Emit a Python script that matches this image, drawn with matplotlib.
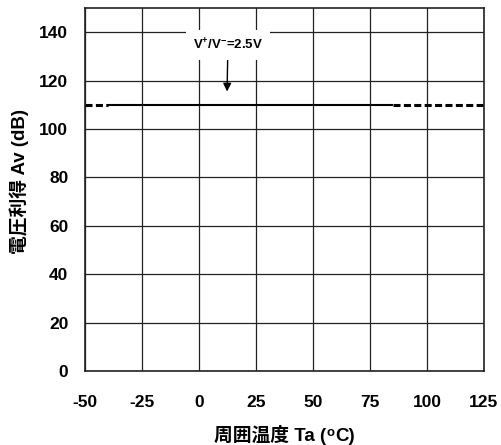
import matplotlib
matplotlib.use('Agg')
import matplotlib.pyplot as plt
from matplotlib.offsetbox import TextArea, HPacker, AnnotationBbox

plt.rcParams['font.family'] = ['Liberation Sans', 'Noto Sans CJK JP', 'DejaVu Sans']
plt.rcParams['font.weight'] = 'bold'
plt.rcParams['mathtext.default'] = 'regular'
plt.rcParams['axes.unicode_minus'] = False

# datos
temp_solid = [-40, 85]
av_solid = [110, 110]
temp_low = [-50, -40]
av_low = [110, 110]
temp_high = [85, 125]
av_high = [110, 110]

x_ticks = [-50, -25, 0, 25, 50, 75, 100, 125]
y_ticks = [0, 20, 40, 60, 80, 100, 120, 140]

fig = plt.figure(figsize=(5.02, 4.45), dpi=100)
ax = fig.add_axes([85/502, 1-371/445, 399/502, 363/445])

ax.plot(temp_solid, av_solid, color='black', lw=1.5, solid_capstyle='butt')
ax.plot(temp_low, av_low, color='black', lw=2.2, linestyle=(0, (2.3, 1.1)), dash_capstyle='butt')
ax.plot(temp_high, av_high, color='black', lw=2.2, linestyle=(0, (2.3, 1.1)),
        dash_capstyle='butt', clip_on=False)

ax.set_xlim(-50, 125)
ax.set_ylim(0, 150)
ax.set_xticks(x_ticks)
ax.set_yticks(y_ticks)
ax.grid(True, color='#222222', lw=0.9)
ax.set_axisbelow(True)
ax.tick_params(length=0, labelsize=12.5)
ax.tick_params(axis='x', pad=17)
ax.tick_params(axis='y', pad=12)
for lab in ax.get_xticklabels() + ax.get_yticklabels():
    lab.set_fontweight('bold')
for s in ax.spines.values():
    s.set_color('#222222')
    s.set_linewidth(1.2)

ax.annotate('V$^{+}$/V$^{-}$=2.5V', xy=(12.3, 115.5), xytext=(12.7, 134.7),
            ha='center', va='center', fontsize=9.5, fontweight='bold',
            bbox=dict(boxstyle='square,pad=0.55', fc='white', ec='none'),
            arrowprops=dict(arrowstyle='-|>', color='black', lw=1.0,
                            mutation_scale=12, shrinkA=0, shrinkB=0))

# etiqueta x con superindice "o"
lbl = dict(fontsize=13.5, fontweight='bold', color='black')
partes = [TextArea('周囲温度 Ta (', textprops=lbl),
          TextArea('$^{o}$', textprops=lbl),
          TextArea('C)', textprops=lbl)]
caja = HPacker(children=partes, align='baseline', pad=0, sep=0)
ab = AnnotationBbox(caja, (0.5, -0.176), xycoords='axes fraction', frameon=False,
                    box_alignment=(0.5, 0.5), annotation_clip=False)
ax.add_artist(ab)

ax.set_ylabel('電圧利得 Av (dB)', fontsize=13.5, fontweight='bold')
ax.yaxis.set_label_coords(-0.14, 0.522)

fig.savefig('out.png', dpi=100)
